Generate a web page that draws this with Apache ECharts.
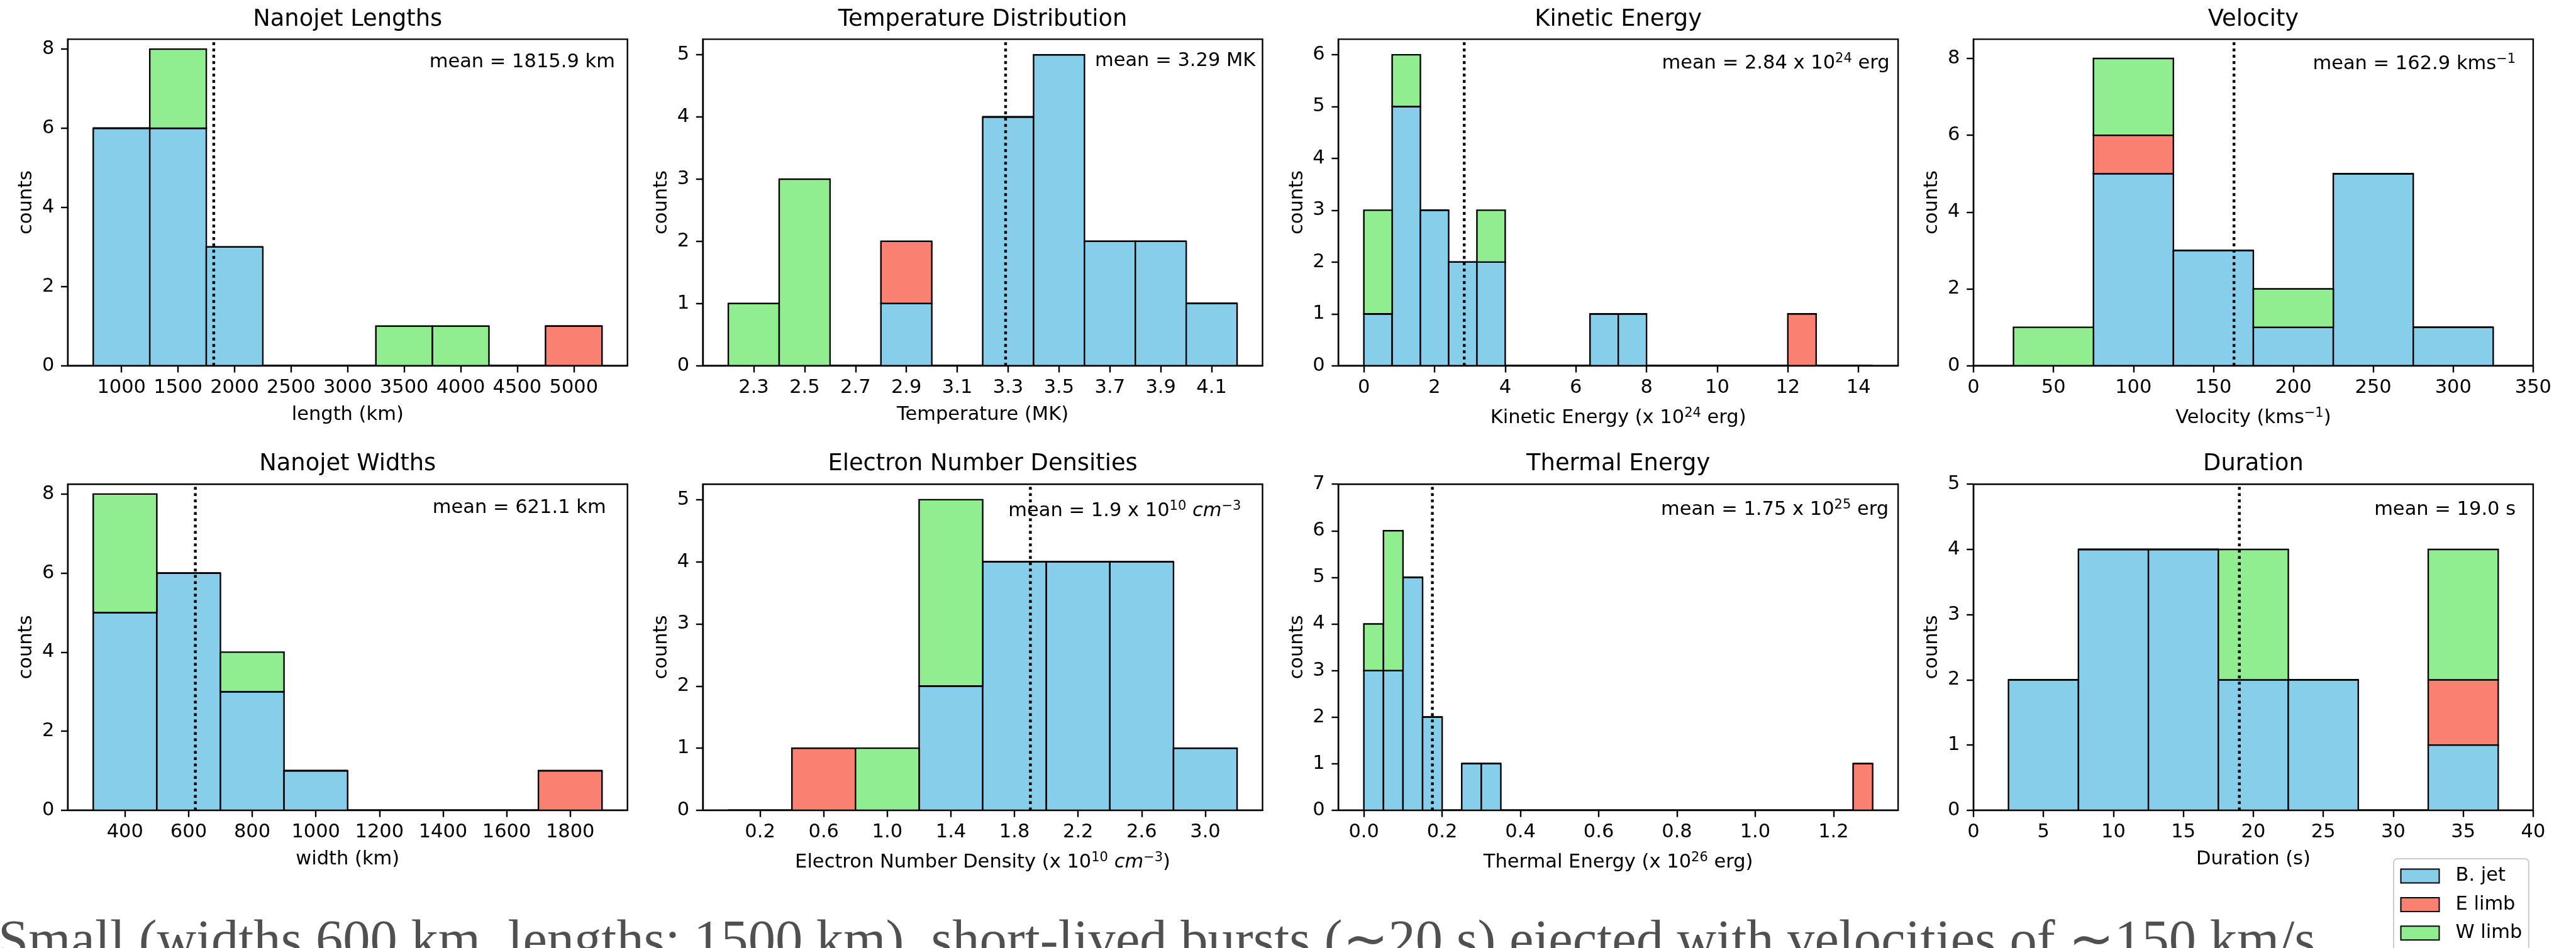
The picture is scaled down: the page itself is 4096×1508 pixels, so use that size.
<!DOCTYPE html>
<html>
<head>
<meta charset="utf-8">
<script src="https://cdn.jsdelivr.net/npm/echarts@6/dist/echarts.min.js"></script>
<style>
  html, body { margin: 0; padding: 0; background: #fff; overflow: hidden; }
  #chart { width: 4096px; height: 1508px; }
</style>
</head>
<body>
<div id="chart"></div>
<script>
// ---------------- data ----------------
const groupNames  = ['B. jet', 'E limb', 'W limb'];
const groupColors = ['#87CEEB', '#FA8072', '#90EE90'];

// Nanojet lengths (km)
const lengthEdges = [750, 1250, 1750, 2250, 2750, 3250, 3750, 4250, 4750, 5250];
const lengthJet   = [6, 6, 3, 0, 0, 0, 0, 0, 0];
const lengthE     = [0, 0, 0, 0, 0, 0, 0, 0, 1];
const lengthW     = [0, 2, 0, 0, 0, 1, 1, 0, 0];
const lengthMean  = 1815.9;
const lengthTicks = [1000, 1500, 2000, 2500, 3000, 3500, 4000, 4500, 5000];

// Temperature (MK)
const tempEdges = [2.2, 2.4, 2.6, 2.8, 3.0, 3.2, 3.4, 3.6, 3.8, 4.0, 4.2];
const tempJet   = [0, 0, 0, 1, 0, 4, 5, 2, 2, 1];
const tempE     = [0, 0, 0, 1, 0, 0, 0, 0, 0, 0];
const tempW     = [1, 3, 0, 0, 0, 0, 0, 0, 0, 0];
const tempMean  = 3.29;
const tempTicks = [2.3, 2.5, 2.7, 2.9, 3.1, 3.3, 3.5, 3.7, 3.9, 4.1];

// Kinetic energy (x 10^24 erg)
const kineticEdges = [0, 0.8, 1.6, 2.4, 3.2, 4.0, 4.8, 5.6, 6.4, 7.2, 8.0, 8.8, 9.6, 10.4, 11.2, 12.0, 12.8, 13.6, 14.4];
const kineticJet   = [1, 5, 3, 2, 2, 0, 0, 0, 1, 1, 0, 0, 0, 0, 0, 0, 0, 0];
const kineticE     = [0, 0, 0, 0, 0, 0, 0, 0, 0, 0, 0, 0, 0, 0, 0, 1, 0, 0];
const kineticW     = [2, 1, 0, 0, 1, 0, 0, 0, 0, 0, 0, 0, 0, 0, 0, 0, 0, 0];
const kineticMean  = 2.84;
const kineticTicks = [0, 2, 4, 6, 8, 10, 12, 14];

// Velocity (km/s)
const velocityEdges = [25, 75, 125, 175, 225, 275, 325];
const velocityJet   = [0, 5, 3, 1, 5, 1];
const velocityE     = [0, 1, 0, 0, 0, 0];
const velocityW     = [1, 2, 0, 1, 0, 0];
const velocityMean  = 162.9;
const velocityTicks = [0, 50, 100, 150, 200, 250, 300, 350];

// Nanojet widths (km)
const widthEdges = [300, 500, 700, 900, 1100, 1300, 1500, 1700, 1900];
const widthJet   = [5, 6, 3, 1, 0, 0, 0, 0];
const widthE     = [0, 0, 0, 0, 0, 0, 0, 1];
const widthW     = [3, 0, 1, 0, 0, 0, 0, 0];
const widthMean  = 621.1;
const widthTicks = [400, 600, 800, 1000, 1200, 1400, 1600, 1800];

// Electron number density (x 10^10 cm^-3)
const densityEdges = [0.0, 0.4, 0.8, 1.2, 1.6, 2.0, 2.4, 2.8, 3.2];
const densityJet   = [0, 0, 0, 2, 4, 4, 4, 1];
const densityE     = [0, 1, 0, 0, 0, 0, 0, 0];
const densityW     = [0, 0, 1, 3, 0, 0, 0, 0];
const densityMean  = 1.9;
const densityTicks = [0.2, 0.6, 1.0, 1.4, 1.8, 2.2, 2.6, 3.0];

// Thermal energy (x 10^26 erg)
const thermalEdges = [0.00, 0.05, 0.10, 0.15, 0.20, 0.25, 0.30, 0.35, 0.40, 0.45, 0.50, 0.55, 0.60, 0.65,
                      0.70, 0.75, 0.80, 0.85, 0.90, 0.95, 1.00, 1.05, 1.10, 1.15, 1.20, 1.25, 1.30];
const thermalJet   = [3, 3, 5, 2, 0, 1, 1, 0, 0, 0, 0, 0, 0, 0, 0, 0, 0, 0, 0, 0, 0, 0, 0, 0, 0, 0];
const thermalE     = [0, 0, 0, 0, 0, 0, 0, 0, 0, 0, 0, 0, 0, 0, 0, 0, 0, 0, 0, 0, 0, 0, 0, 0, 0, 1];
const thermalW     = [1, 3, 0, 0, 0, 0, 0, 0, 0, 0, 0, 0, 0, 0, 0, 0, 0, 0, 0, 0, 0, 0, 0, 0, 0, 0];
const thermalMean  = 0.175;
const thermalTicks = [0.0, 0.2, 0.4, 0.6, 0.8, 1.0, 1.2];

// Duration (s)
const durationEdges = [2.5, 7.5, 12.5, 17.5, 22.5, 27.5, 32.5, 37.5];
const durationJet   = [2, 4, 4, 2, 2, 0, 1];
const durationE     = [0, 0, 0, 0, 0, 0, 1];
const durationW     = [0, 0, 0, 2, 0, 0, 2];
const durationMean  = 19.0;
const durationTicks = [0, 5, 10, 15, 20, 25, 30, 35, 40];

const countTicks8 = [0, 2, 4, 6, 8];
const countTicks5 = [0, 1, 2, 3, 4, 5];
const countTicks6 = [0, 1, 2, 3, 4, 5, 6];
const countTicks7 = [0, 1, 2, 3, 4, 5, 6, 7];

const bodyText = 'Small (widths 600 km, lengths: 1500 km), short-lived bursts (\u223C20 s) ejected with velocities of \u223C150 km/s';

// ---------------- panels ----------------
const panels = [
  { title: 'Nanojet Lengths', edges: lengthEdges, groups: [lengthJet, lengthE, lengthW], mean: lengthMean,
    xMin: 525, xMax: 5475, xTicks: lengthTicks, dec: 0, yMax: 8.25, yTicks: countTicks8,
    xName: 'length (km)', sup: false,
    meanLabel: '{a|mean = ' + lengthMean.toFixed(1) + ' km}', lab: [19.8, 36.7] },
  { title: 'Temperature Distribution', edges: tempEdges, groups: [tempJet, tempE, tempW], mean: tempMean,
    xMin: 2.1, xMax: 4.3, xTicks: tempTicks, dec: 1, yMax: 5.25, yTicks: countTicks5,
    xName: 'Temperature (MK)', sup: false,
    meanLabel: '{a|mean = ' + tempMean.toFixed(2) + ' MK}', lab: [11.2, 34.9] },
  { title: 'Kinetic Energy', edges: kineticEdges, groups: [kineticJet, kineticE, kineticW], mean: kineticMean,
    xMin: -0.72, xMax: 15.12, xTicks: kineticTicks, dec: 0, yMax: 6.3, yTicks: countTicks6,
    xName: '{a|Kinetic Energy (x 10}{s|24}{a| erg)}', sup: true,
    meanLabel: '{a|mean = ' + kineticMean.toFixed(2) + ' x 10}{s|24}{a| erg}', lab: [13.5, 39.0] },
  { title: 'Velocity', edges: velocityEdges, groups: [velocityJet, velocityE, velocityW], mean: velocityMean,
    xMin: 0, xMax: 350, xTicks: velocityTicks, dec: 0, yMax: 8.5, yTicks: countTicks8,
    xName: '{a|Velocity (kms}{s|\u22121}{a|)}', sup: true,
    meanLabel: '{a|mean = ' + velocityMean.toFixed(1) + ' kms}{s|\u22121}', lab: [27.8, 39.4] },
  { title: 'Nanojet Widths', edges: widthEdges, groups: [widthJet, widthE, widthW], mean: widthMean,
    xMin: 220, xMax: 1980, xTicks: widthTicks, dec: 0, yMax: 8.25, yTicks: countTicks8,
    xName: 'width (km)', sup: false,
    meanLabel: '{a|mean = ' + widthMean.toFixed(1) + ' km}', lab: [34.1, 37.5] },
  { title: 'Electron Number Densities', edges: densityEdges, groups: [densityJet, densityE, densityW], mean: densityMean,
    xMin: -0.16, xMax: 3.36, xTicks: densityTicks, dec: 1, yMax: 5.25, yTicks: countTicks5,
    xName: '{a|Electron Number Density (x 10}{s|10}{a| }{i|cm}{s|\u22123}{a|)}', sup: true,
    meanLabel: '{a|mean = ' + densityMean.toFixed(1) + ' x 10}{s|10}{a| }{i|cm}{s|\u22123}', lab: [34.1, 42.8] },
  { title: 'Thermal Energy', edges: thermalEdges, groups: [thermalJet, thermalE, thermalW], mean: thermalMean,
    xMin: -0.065, xMax: 1.365, xTicks: thermalTicks, dec: 1, yMax: 7, yTicks: countTicks7,
    xName: '{a|Thermal Energy (x 10}{s|26}{a| erg)}', sup: true,
    meanLabel: '{a|mean = 1.75 x 10}{s|25}{a| erg}', lab: [15.0, 41.0] },
  { title: 'Duration', edges: durationEdges, groups: [durationJet, durationE, durationW], mean: durationMean,
    xMin: 0, xMax: 40, xTicks: durationTicks, dec: 0, yMax: 5, yTicks: countTicks5,
    xName: 'Duration (s)', sup: false,
    meanLabel: '{a|mean = ' + durationMean.toFixed(1) + ' s}', lab: [27.8, 41.0] }
];

// ---------------- layout ----------------
const FONT = 'DejaVu Sans';
const FS = 30.5;
const SUP_FS = 21;
const TITLE_FS = 36.8;
const LINE_W = 2.4;
const colLeft = [107.8, 1117.6, 2128.2, 3138.0];
const gridW = 889.9;
const rowTop = [62.4, 770.2];
const gridH = [519.3, 518.7];

const richModel = {
  a: { fontFamily: FONT, fontSize: FS, lineHeight: 36, color: '#000' },
  i: { fontFamily: FONT, fontSize: FS, lineHeight: 36, fontStyle: 'italic', color: '#000' },
  s: { fontFamily: FONT, fontSize: SUP_FS, lineHeight: 18, verticalAlign: 'top', color: '#000' }
};
const richGfx = {
  a: { fontFamily: FONT, fontSize: FS, lineHeight: 36, fill: '#000' },
  i: { fontFamily: FONT, fontSize: FS, lineHeight: 36, fontStyle: 'italic', fill: '#000' },
  s: { fontFamily: FONT, fontSize: SUP_FS, lineHeight: 18, verticalAlign: 'top', fill: '#000' }
};

// stacked histogram rectangles: [x0, x1, base, top]
function stackRows(p, g) {
  const rows = [];
  for (let i = 0; i < p.edges.length - 1; i++) {
    let base = 0;
    for (let h = 0; h < g; h++) base += p.groups[h][i];
    rows.push([p.edges[i], p.edges[i + 1], base, base + p.groups[g][i]]);
  }
  return rows;
}

function renderBin(params, api) {
  const a = api.coord([api.value(0), api.value(2)]);
  const b = api.coord([api.value(1), api.value(3)]);
  return {
    type: 'rect',
    shape: { x: a[0], y: b[1], width: b[0] - a[0], height: a[1] - b[1] },
    style: { fill: api.visual('color'), stroke: '#000', lineWidth: LINE_W }
  };
}

const grids = [], xAxes = [], yAxes = [], series = [], titles = [], graphics = [];

panels.forEach((p, k) => {
  const col = k % 4, row = Math.floor(k / 4);
  const left = colLeft[col], top = rowTop[row], h = gridH[row];

  grids.push({ left: left, top: top, width: gridW, height: h, show: true,
               borderColor: '#000', borderWidth: LINE_W, backgroundColor: 'transparent' });

  xAxes.push({
    type: 'value', gridIndex: k, min: p.xMin, max: p.xMax,
    axisLine: { show: true, onZero: false, lineStyle: { color: '#000', width: LINE_W } },
    splitLine: { show: false },
    axisTick: { show: true, length: 10.8, customValues: p.xTicks, lineStyle: { color: '#000', width: LINE_W } },
    axisLabel: { customValues: p.xTicks, margin: 18, fontSize: FS, fontFamily: FONT, color: '#000', lineHeight: 34,
                 formatter: v => v.toFixed(p.dec) },
    name: p.xName, nameLocation: 'middle', nameGap: p.sup ? 65 : 60,
    nameTextStyle: { fontSize: FS, fontFamily: FONT, color: '#000', lineHeight: 36, rich: richModel }
  });

  yAxes.push({
    type: 'value', gridIndex: k, min: 0, max: p.yMax,
    axisLine: { show: true, onZero: false, lineStyle: { color: '#000', width: LINE_W } },
    splitLine: { show: false },
    axisTick: { show: true, length: 10.8, customValues: p.yTicks, lineStyle: { color: '#000', width: LINE_W } },
    axisLabel: { customValues: p.yTicks, margin: 21.5, fontSize: FS, fontFamily: FONT, color: '#000',
                 formatter: v => String(Math.round(v)) },
    name: 'counts', nameLocation: 'middle', nameRotate: 90, nameGap: 47.6,
    nameTextStyle: { fontSize: FS, fontFamily: FONT, color: '#000', lineHeight: 36 }
  });

  for (let g = 0; g < 3; g++) {
    series.push({
      type: 'custom', name: groupNames[g], xAxisIndex: k, yAxisIndex: k,
      itemStyle: { color: groupColors[g], borderColor: '#000', borderWidth: 2 },
      renderItem: renderBin,
      encode: { x: [0, 1], y: [2, 3] },
      data: stackRows(p, g),
      z: 2 + g
    });
  }

  // dotted mean marker spanning the full count range
  series.push({
    type: 'line', name: 'mean', xAxisIndex: k, yAxisIndex: k,
    data: [[p.mean, 0], [p.mean, p.yMax]],
    symbol: 'none', silent: true, z: 10,
    lineStyle: { color: '#000', width: 4.4, type: [4.4, 5.6], cap: 'butt' }
  });

  titles.push({
    text: p.title, left: left + gridW / 2, top: top - 31.4 - 22, textAlign: 'center', padding: 0,
    textStyle: { fontSize: TITLE_FS, fontWeight: 'normal', fontFamily: FONT, color: '#000', lineHeight: 44 }
  });

  graphics.push({
    type: 'text', x: left + gridW - p.lab[0], y: top + p.lab[1], z: 20,
    style: { text: p.meanLabel, rich: richGfx, align: 'right', verticalAlign: 'middle',
             font: FS + 'px "' + FONT + '"', fill: '#000' }
  });
});

// running caption below the panels (clipped by the page edge)
const bodyFamily = '"Liberation Serif"';
const measureCtx = document.createElement('canvas').getContext('2d');
measureCtx.font = '100px ' + bodyFamily;
const bodySize = 100 * 3685 / measureCtx.measureText(bodyText).width;
graphics.push({
  type: 'text', x: -3, y: 1468 + 0.378 * bodySize, z: 1,
  style: { text: bodyText, font: bodySize.toFixed(2) + 'px ' + bodyFamily, fill: '#505050',
           align: 'left', verticalAlign: 'middle' }
});

const chart = echarts.init(document.getElementById('chart'), null, { renderer: 'canvas' });
chart.setOption({
  animation: false,
  backgroundColor: '#fff',
  textStyle: { fontFamily: FONT },
  title: titles,
  grid: grids,
  xAxis: xAxes,
  yAxis: yAxes,
  series: series,
  graphic: graphics,
  legend: {
    data: groupNames, orient: 'vertical', left: 3806, top: 1366, width: 217, height: 200,
    padding: [10.5, 10.5, 10.5, 10.5], itemWidth: 61, itemHeight: 22, itemGap: 11.4,
    icon: 'rect', itemStyle: { borderColor: '#000', borderWidth: 2 },
    textStyle: { fontSize: FS, fontFamily: FONT, color: '#000', lineHeight: 34, padding: [0, 0, 0, 21] },
    backgroundColor: '#fff', borderColor: '#cccccc', borderWidth: 2, borderRadius: 6,
    selectedMode: false
  }
});
</script>
</body>
</html>
